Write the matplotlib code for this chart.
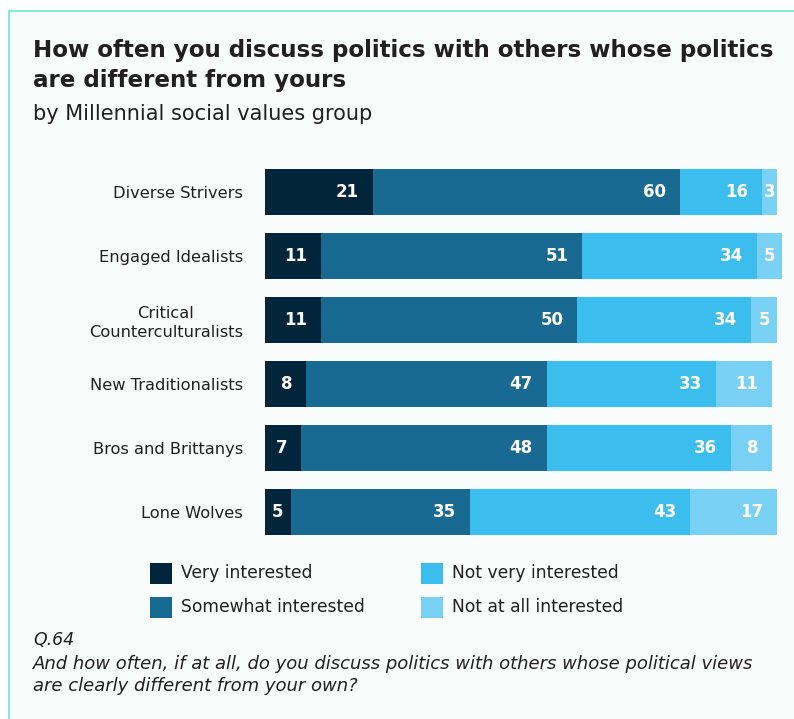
import numpy as np
import matplotlib.pyplot as plt
from matplotlib.patches import Rectangle
from matplotlib.lines import Line2D

plt.rcParams['font.family'] = ['DejaVu Sans']

groups = ['Diverse Strivers', 'Engaged Idealists', 'Critical\nCounterculturalists',
          'New Traditionalists', 'Bros and Brittanys', 'Lone Wolves']
very = [21, 11, 11, 8, 7, 5]
somewhat = [60, 51, 50, 47, 48, 35]
not_very = [16, 34, 34, 33, 36, 43]
not_at_all = [3, 5, 5, 11, 8, 17]

series = [very, somewhat, not_very, not_at_all]
names = ['Very interested', 'Somewhat interested', 'Not very interested', 'Not at all interested']
colors = ['#03253b', '#186a93', '#3bbdee', '#79d0f5']

W, H = 794, 719
fig = plt.figure(figsize=(W/100, H/100), dpi=100, facecolor='white')

# panel background and mint border (left and top only)
fig.patches.append(Rectangle((9/W, 0), 1, 1 - 11/H, transform=fig.transFigure,
                             facecolor='#f8fcfb', edgecolor='none', zorder=-2))
fig.add_artist(Line2D([9/W, 9/W], [0, 1 - 11/H], transform=fig.transFigure, color='#86ecd0', lw=1.5, zorder=-1))
fig.add_artist(Line2D([9/W, 1], [1 - 11/H, 1 - 11/H], transform=fig.transFigure, color='#86ecd0', lw=1.5, zorder=-1))

ax = fig.add_axes([265/W, 1 - 544/H, 512/W, 384/H])
ax.set_zorder(2)
ax.set_facecolor('none')
y = np.arange(len(groups))
left = np.zeros(len(groups))
for vals, c in zip(series, colors):
    vals = np.array(vals)
    ax.barh(y, vals, left=left, height=0.72, color=c, edgecolor='none', clip_on=False)
    for yi, l, v in zip(y, left, vals):
        if v <= 5:
            ax.text(l + v / 2, yi, str(v), ha='center', va='center', color='white',
                    fontsize=12, fontweight='bold')
        else:
            ax.text(l + v - 2.7, yi, str(v), ha='right', va='center', color='white',
                    fontsize=12, fontweight='bold')
    left += vals

ax.set_xlim(0, 100)
ax.set_ylim(len(groups) - 0.5, -0.5)
ax.set_yticks(y)
ax.set_yticklabels(groups, fontsize=11.7, color='#231f20', linespacing=1.3)
for lab in ax.get_yticklabels():
    lab.set_multialignment('center')
ax.tick_params(axis='y', length=0, pad=16)
ax.set_xticks([])
for s in ax.spines.values():
    s.set_visible(False)

txt = '#231f20'
fig.text(33/W, 1 - 50/H, 'How often you discuss politics with others whose politics',
         fontsize=16.6, fontweight='bold', color=txt, va='center')
fig.text(33/W, 1 - 80/H, 'are different from yours',
         fontsize=16.6, fontweight='bold', color=txt, va='center')
fig.text(33/W, 1 - 114/H, 'by Millennial social values group',
         fontsize=15, color=txt, va='center')

# legend
pos = [(150, 573), (150, 607), (421, 573), (421, 607)]
for (px, py), n, c in zip(pos, names, colors):
    fig.patches.append(Rectangle((px/W, 1 - (py + 11)/H), 22/W, 21/H,
                                 transform=fig.transFigure, facecolor=c, edgecolor='none', zorder=1))
    fig.text((px + 31)/W, 1 - py/H, n, fontsize=12.3, color=txt, va='center')

fig.text(33/W, 1 - 640/H, 'Q.64', fontsize=12.5, style='italic', color=txt, va='center')
fig.text(33/W, 1 - 664/H, 'And how often, if at all, do you discuss politics with others whose political views',
         fontsize=13, style='italic', color=txt, va='center')
fig.text(33/W, 1 - 686/H, 'are clearly different from your own?',
         fontsize=13, style='italic', color=txt, va='center')

fig.savefig('out.png', dpi=100, facecolor='white')
